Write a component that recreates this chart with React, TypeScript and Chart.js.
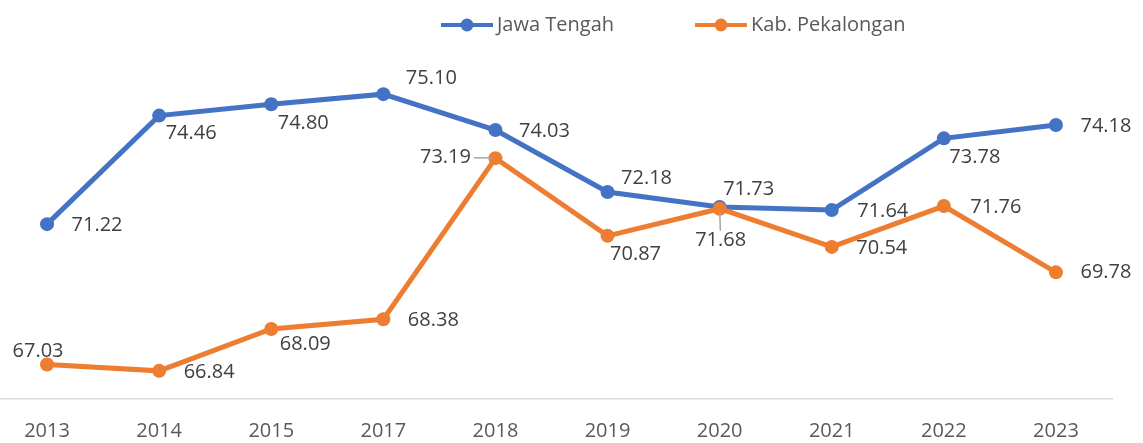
import React, { useEffect, useRef } from "react";
import { Chart, registerables } from "chart.js";

Chart.register(...registerables);

const YEARS = ["2013", "2014", "2015", "2017", "2018", "2019", "2020", "2021", "2022", "2023"];
const JAWA_TENGAH = [71.22, 74.46, 74.8, 75.1, 74.03, 72.18, 71.73, 71.64, 73.78, 74.18];
const KAB_PEKALONGAN = [67.03, 66.84, 68.09, 68.38, 73.19, 70.87, 71.68, 70.54, 71.76, 69.78];
const SERIES_NAMES = ["Jawa Tengah", "Kab. Pekalongan"];
const COLORS = ["#4472C4", "#ED7D31"];

// label placement relative to each point (layout only)
const JT_LABEL_OFFSETS = [[50, 1], [32, 18], [32, 19], [48, -16], [49, 1], [39, -14], [29, -18], [51, 1], [31, 19], [50, 1]];
const PK_LABEL_OFFSETS = [[-9, -13], [50, 1], [34, 15], [50, 1], [-50, -1], [28, 18], [1, 32], [50, 1], [52, 1], [50, 0]];
const PK_LEADERS = [false, false, false, false, true, false, true, false, false, false];
const JT_LEADERS = [false, false, false, false, false, false, false, false, false, false];

const FONT = '"Open Sans", "DejaVu Sans", sans-serif';

const labelPlugin = {
  id: "pointLabels",
  afterDatasetsDraw(chart: any, _args: any, opts: any) {
    const ctx = chart.ctx;
    ctx.save();
    ctx.font = `20px ${FONT}`;
    ctx.textAlign = "center";
    ctx.textBaseline = "middle";
    chart.data.datasets.forEach((ds: any, di: number) => {
      const meta = chart.getDatasetMeta(di);
      const offs = opts.offsets[di];
      const leaders = opts.leaders[di];
      meta.data.forEach((pt: any, i: number) => {
        const [dx, dy] = offs[i];
        const x = pt.x + dx;
        const y = pt.y + dy;
        const text = Number(ds.data[i]).toFixed(2);
        if (leaders[i]) {
          const w = ctx.measureText(text).width / 2 + 3;
          const h = 10;
          const dist = Math.hypot(dx, dy);
          const ux = dx / dist;
          const uy = dy / dist;
          const tEdge = Math.min(Math.abs(dx) > 0.01 ? w / Math.abs(ux) : 1e9, Math.abs(dy) > 0.01 ? h / Math.abs(uy) : 1e9);
          const len = dist - tEdge;
          ctx.strokeStyle = "#A6A6A6";
          ctx.lineWidth = 1.5;
          ctx.beginPath();
          ctx.moveTo(pt.x + ux * 3, pt.y + uy * 3);
          ctx.lineTo(pt.x + ux * len, pt.y + uy * len);
          ctx.stroke();
        }
        ctx.fillStyle = "#404040";
        ctx.fillText(text, x, y);
      });
    });
    ctx.restore();
  },
};

const legendPlugin = {
  id: "customLegend",
  afterDraw(chart: any, _args: any, opts: any) {
    const ctx = chart.ctx;
    ctx.save();
    ctx.font = `20px ${FONT}`;
    ctx.textBaseline = "middle";
    ctx.textAlign = "left";
    let x = opts.x;
    const y = opts.y;
    chart.data.datasets.forEach((ds: any) => {
      ctx.strokeStyle = ds.borderColor;
      ctx.lineWidth = 4;
      ctx.beginPath();
      ctx.moveTo(x, y);
      ctx.lineTo(x + 52, y);
      ctx.stroke();
      ctx.fillStyle = ds.borderColor;
      ctx.beginPath();
      ctx.arc(x + 26, y, 6.5, 0, Math.PI * 2);
      ctx.fill();
      ctx.fillStyle = "#595959";
      ctx.fillText(ds.label, x + 56, y);
      x += 56 + ctx.measureText(ds.label).width + 81;
    });
    ctx.restore();
  },
};

export default function App() {
  const ref = useRef<HTMLCanvasElement | null>(null);
  useEffect(() => {
    if (!ref.current) return;
    const chart = new Chart(ref.current, {
      type: "line",
      data: {
        labels: YEARS,
        datasets: [
          {
            label: SERIES_NAMES[0],
            data: JAWA_TENGAH,
            borderColor: COLORS[0],
            backgroundColor: COLORS[0],
            borderWidth: 5,
            pointRadius: 7,
            pointBorderWidth: 0,
            pointBackgroundColor: COLORS[0],
            tension: 0,
            order: 1,
          },
          {
            label: SERIES_NAMES[1],
            data: KAB_PEKALONGAN,
            borderColor: COLORS[1],
            backgroundColor: COLORS[1],
            borderWidth: 5,
            pointRadius: 7,
            pointBorderWidth: 0,
            pointBackgroundColor: COLORS[1],
            tension: 0,
            order: 0,
          },
        ],
      },
      options: {
        animation: false,
        responsive: false,
        maintainAspectRatio: false,
        layout: { padding: { top: 30.5, right: 31, left: 0, bottom: 0 } },
        plugins: {
          legend: { display: false },
          tooltip: { enabled: false },
          pointLabels: {
            offsets: [JT_LABEL_OFFSETS, PK_LABEL_OFFSETS],
            leaders: [JT_LEADERS, PK_LEADERS],
          },
          customLegend: { x: 457, y: 25 },
        } as any,
        scales: {
          x: {
            offset: true,
            grid: { display: false, drawTicks: false },
            border: { display: true, color: "#D9D9D9", width: 1.5 },
            ticks: {
              color: "#595959",
              font: { family: FONT, size: 20 },
              padding: 20,
              maxRotation: 0,
              autoSkip: false,
            },
            afterFit: (scale: any) => {
              scale.height = 44;
            },
          },
          y: {
            display: false,
            min: 66,
            max: 77,
          },
        },
      },
      plugins: [labelPlugin, legendPlugin],
    });
    return () => chart.destroy();
  }, []);
  return (
    <div style={{ position: "fixed", left: -16, top: 0, width: 1159, height: 443 }}>
      <canvas ref={ref} width={1159} height={443} style={{ display: "block" }} />
    </div>
  );
}
